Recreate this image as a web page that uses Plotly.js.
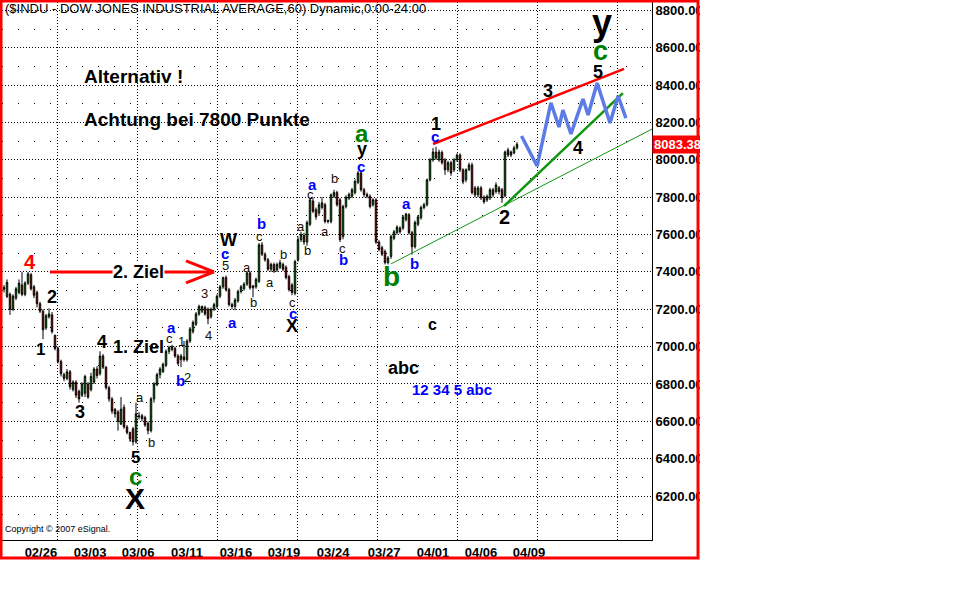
<!DOCTYPE html>
<html>
<head>
<meta charset="utf-8">
<script src="https://cdn.plot.ly/plotly-3.0.1.min.js"></script>
<style>
  html, body { margin: 0; padding: 0; background: #fff; }
  #chart { position: absolute; left: 0; top: 0; width: 700px; height: 560px; }
</style>
</head>
<body>
<div id="chart"></div>
<script>
// ---------------- DATA (60-min bars, $INDU) ----------------
const dateLabels = ['02/26','03/03','03/06','03/11','03/16','03/19','03/24','03/27','04/01','04/06','04/09'];
const dateTickIndex = [12.3, 28.7, 44.7, 61, 77.3, 93.3, 109.7, 126.7, 143, 159, 175];
const priceTicks = [6200, 6400, 6600, 6800, 7000, 7200, 7400, 7600, 7800, 8000, 8200, 8400, 8600, 8800];

const open = [
  7307,7269,7280,7200,7260,7290,7330,7280,7340,7385,
  7320,7290,7230,7190,7100,7160,7170,7060,6990,6920,
  6850,6830,6865,6770,6810,6760,6740,6750,6800,6770,
  6810,6880,6855,6950,6890,6780,6720,6665,6650,6585,
  6675,6570,6540,6560,6490,6630,6630,6620,6590,6550,
  6720,6795,6850,6865,6900,6975,6985,6990,6950,6930,
  6945,6930,7030,7080,7120,7175,7190,7210,7200,7160,
  7200,7215,7270,7320,7370,7305,7225,7215,7245,7295,
  7310,7335,7395,7315,7320,7350,7545,7495,7465,7415,
  7440,7410,7425,7440,7425,7375,7330,7285,7465,7573,
  7595,7560,7655,7780,7733,7715,7745,7760,7670,7670,
  7805,7825,7786,7590,7750,7795,7805,7825,7880,7930,
  7840,7815,7805,7760,7786,7560,7530,7510,7450,7483,
  7580,7610,7635,7635,7680,7706,7610,7535,7655,7690,
  7745,7760,7893,8000,8042,8000,8040,8000,7947,7985,
  7947,8000,8026,7947,7893,7947,7973,7850,7813,7850,
  7800,7786,7797,7840,7830,7850,7840,7808,8053,8026,
  8037,8064
];
const high = [
  7330,7360,7290,7280,7320,7360,7400,7350,7400,7395,
  7330,7300,7240,7200,7175,7205,7185,7065,7000,6930,
  6860,6880,6875,6820,6820,6770,6810,6850,6810,6860,
  6890,6895,6975,6960,6895,6790,6730,6670,6660,6730,
  6690,6580,6545,6570,6700,6650,6640,6630,6600,6730,
  6810,6860,6890,6915,6985,7005,7010,7000,6960,6960,
  7030,7040,7105,7140,7185,7225,7220,7220,7210,7210,
  7235,7280,7330,7375,7381,7315,7235,7260,7305,7330,
  7345,7400,7400,7330,7370,7555,7560,7505,7475,7450,
  7450,7450,7465,7450,7435,7385,7340,7465,7590,7615,
  7610,7675,7800,7795,7745,7775,7800,7770,7680,7820,
  7840,7835,7795,7760,7810,7825,7850,7895,7940,7945,
  7850,7825,7815,7795,7795,7570,7540,7520,7485,7600,
  7625,7650,7645,7705,7717,7715,7620,7675,7705,7755,
  7770,7900,8010,8064,8070,8055,8050,8010,7995,7995,
  8010,8035,8035,7955,7955,7985,7985,7860,7860,7860,
  7810,7815,7850,7850,7880,7860,7850,8050,8065,8050,
  8075,8095
];
const low = [
  7290,7260,7170,7190,7250,7280,7270,7270,7330,7300,
  7260,7210,7180,7040,7090,7150,7070,6980,6910,6840,
  6815,6820,6770,6760,6725,6700,6730,6730,6720,6760,
  6800,6830,6845,6880,6770,6705,6640,6620,6550,6580,
  6560,6530,6490,6470,6480,6610,6600,6570,6530,6540,
  6700,6790,6830,6860,6890,6960,6975,6940,6900,6890,
  6920,6920,7020,7070,7110,7165,7180,7165,7120,7150,
  7190,7205,7260,7310,7295,7215,7200,7195,7235,7285,
  7300,7325,7305,7264,7310,7340,7485,7455,7405,7400,
  7395,7400,7415,7405,7360,7295,7275,7275,7455,7560,
  7545,7540,7645,7715,7680,7700,7735,7660,7660,7660,
  7795,7750,7560,7575,7740,7785,7795,7815,7870,7830,
  7800,7795,7740,7750,7550,7510,7485,7440,7440,7470,
  7570,7600,7605,7625,7670,7600,7493,7525,7645,7680,
  7735,7750,7885,7990,8000,7990,7975,7920,7935,7915,
  7935,7990,7935,7870,7880,7940,7815,7800,7800,7785,
  7765,7775,7785,7800,7820,7815,7770,7800,8015,8015,
  8030,8055
];
const close = [
  7317,7344,7200,7270,7310,7340,7280,7340,7390,7310,
  7275,7230,7190,7090,7165,7175,7080,6990,6920,6855,
  6830,6865,6785,6810,6740,6720,6800,6840,6730,6840,
  6880,6845,6950,6890,6780,6720,6655,6640,6600,6665,
  6570,6540,6505,6490,6640,6625,6615,6580,6550,6720,
  6800,6850,6880,6905,6975,6995,7000,6950,6910,6950,
  6930,7030,7095,7130,7175,7215,7215,7175,7150,7200,
  7225,7270,7320,7370,7305,7225,7215,7250,7295,7320,
  7335,7395,7315,7325,7360,7545,7495,7465,7415,7440,
  7405,7440,7450,7415,7370,7305,7290,7455,7573,7600,
  7560,7665,7786,7725,7695,7760,7770,7670,7675,7813,
  7825,7760,7573,7750,7800,7815,7840,7885,7930,7840,
  7815,7805,7750,7786,7560,7520,7495,7450,7475,7590,
  7615,7640,7615,7695,7710,7610,7535,7665,7695,7745,
  7760,7893,8000,8042,8010,8042,7985,7947,7985,7930,
  8000,8026,7947,7883,7947,7973,7825,7813,7850,7797,
  7775,7805,7840,7813,7866,7830,7797,8042,8026,8042,
  8064,8083.38
];

// drawn-in trend lines and projected path (bar index, price)
const redLineX = [143, 206.7];
const redLineY = [8085, 8487];
const greenThickX = [166.7, 206.3];
const greenThickY = [7753, 8358];
const greenThinX = [129, 216];
const greenThinY = [7443, 8165];
const projX = [172.5, 177.7, 182.3, 185, 186.3, 189, 193, 194.7, 197.7, 202, 204.7, 207.3];
const projY = [8128, 7967, 8305, 8176, 8267, 8139, 8326, 8240, 8412, 8198, 8342, 8224];

// ---------------- CHART ----------------
const barIndex = open.map((_, i) => i);
const FONT = 'Arial, "Liberation Sans", sans-serif';

const traces = [
  {
    type: 'candlestick', x: barIndex, open: open, high: high, low: low, close: close,
    increasing: { line: { color: '#000000', width: 1 }, fillcolor: '#00dd00' },
    decreasing: { line: { color: '#000000', width: 1 }, fillcolor: '#ff0000' },
    whiskerwidth: 0, hoverinfo: 'skip'
  },
  { type: 'scatter', mode: 'lines', x: greenThinX, y: greenThinY, line: { color: '#129612', width: 1 }, hoverinfo: 'skip' },
  { type: 'scatter', mode: 'lines', x: greenThickX, y: greenThickY, line: { color: '#129612', width: 2.5 }, hoverinfo: 'skip' },
  { type: 'scatter', mode: 'lines', x: redLineX, y: redLineY, line: { color: '#ff0000', width: 2.5 }, hoverinfo: 'skip' },
  { type: 'scatter', mode: 'lines', x: projX, y: projY, line: { color: '#5b7be6', width: 3.5 }, hoverinfo: 'skip' }
];

const STY = {
  big:   { size: 18, color: '#000000', weight: 'bold' },
  small: { size: 13, color: '#1a0d00', weight: 'normal' },
  blue:  { size: 15, color: '#0000ff', weight: 'bold' },
  green: { size: 25, color: '#008000', weight: 'bold' },
  red:   { size: 20, color: '#ff0000', weight: 'bold' }
};
const annotations = [];
function lab(t, x, y, st, size, extra) {
  const f = Object.assign({ family: FONT }, STY[st]);
  if (size) f.size = size;
  annotations.push(Object.assign({ text: t, x: x, y: y, xref: 'x', yref: 'y', showarrow: false, font: f }, extra || {}));
}
// wave labels
lab('4', 8.67, 7453, 'red', 20);
lab('2', 16, 7266, 'big', 18);
lab('1', 12.33, 6982, 'big', 17);
lab('3', 25.33, 6650, 'big', 18);
lab('4', 32.67, 7025, 'big', 18);
lab('1. Ziel', 44.67, 6998, 'big', 18);
lab('2. Ziel', 44.67, 7400, 'big', 18, { bgcolor: '#ffffff', borderpad: 0 });
lab('5', 43.67, 6404, 'big', 17);
lab('c', 43.67, 6302, 'green', 24);
lab('X', 43.67, 6189, 'big', 30);
lab('a', 45.33, 6730, 'small');
lab('b', 49, 6484, 'small');
lab('a', 55.67, 7100, 'blue');
lab('c', 55.33, 7041, 'small');
lab('1', 59.33, 7025, 'small');
lab('b', 58.67, 6816, 'blue');
lab('2', 61.33, 6837, 'small');
lab('3', 66.67, 7282, 'small');
lab('4', 68, 7062, 'small');
lab('5', 73.67, 7432, 'small');
lab('c', 73.67, 7501, 'blue');
lab('W', 74.67, 7571, 'big', 18);
lab('a', 76.33, 7127, 'blue');
lab('a', 81, 7426, 'small');
lab('b', 83, 7234, 'small');
lab('c', 85.33, 7592, 'small');
lab('b', 85.67, 7662, 'blue');
lab('a', 88.67, 7341, 'small');
lab('b', 93, 7491, 'small');
lab('c', 96, 7234, 'small');
lab('c', 96.33, 7180, 'blue');
lab('X', 96, 7111, 'big', 18);
lab('a', 99, 7646, 'small');
lab('b', 101, 7517, 'small');
lab('c', 102.33, 7817, 'small');
lab('a', 102.67, 7866, 'blue');
lab('a', 107, 7614, 'small');
lab('b', 110, 7898, 'small');
lab('c', 112.67, 7528, 'small');
lab('b', 113, 7469, 'blue');
lab('c', 119, 7967, 'blue');
lab('y', 119.33, 8058, 'big', 18);
lab('a', 119.33, 8144, 'green', 24);
lab('b', 129, 7373, 'green', 28);
lab('a', 134.33, 7764, 'blue');
lab('b', 136.67, 7443, 'blue');
lab('c', 143.67, 8123, 'blue');
lab('1', 144, 8192, 'big', 18);
lab('2', 166.67, 7694, 'big', 20);
lab('3', 181.33, 8369, 'big', 18);
lab('4', 191.33, 8064, 'big', 18);
lab('5', 198, 8471, 'big', 18);
lab('c', 198.67, 8583, 'green', 27);
lab('y', 199.33, 8738, 'big', 36);
lab('c', 142.67, 7121, 'big', 16);
lab('abc', 133, 6886, 'big', 18);
lab('12 34 5 abc', 149.33, 6768, 'blue', 15);
lab('Alternativ !', 26, 8449, 'big', 19, { xanchor: 'left' });
lab('Achtung bei 7800 Punkte', 26, 8214, 'big', 19, { xanchor: 'left' });

// header / footer / last price
annotations.push({ text: '($INDU - DOW JONES INDUSTRIAL AVERAGE,60) Dynamic,0:00-24:00', xref: 'paper', yref: 'paper',
  x: 0, y: 0.987, xanchor: 'left', yanchor: 'middle', xshift: 1, showarrow: false,
  font: { family: FONT, size: 13, color: '#000000' } });
annotations.push({ text: 'Copyright \u00a9 2007 eSignal.', xref: 'paper', yref: 'paper',
  x: 0, y: 0.0204, xanchor: 'left', yanchor: 'middle', xshift: 1, showarrow: false,
  font: { family: FONT, size: 9, color: '#000000' } });
const lastClose = close[close.length - 1];
annotations.push({ text: lastClose.toFixed(2), xref: 'paper', yref: 'y', x: 1, y: lastClose,
  xanchor: 'left', yanchor: 'middle', xshift: 0, showarrow: false, bgcolor: '#ff0000', borderpad: 1,
  font: { family: FONT, size: 13, color: '#ffffff', weight: 'bold' } });

const shapes = [
  // red target arrow "2. Ziel"
  { type: 'line', xref: 'x', yref: 'y', x0: 15.33, y0: 7400, x1: 70, y1: 7400, line: { color: '#ff0000', width: 3 } },
  { type: 'line', xref: 'x', yref: 'y', x0: 60.67, y0: 7459, x1: 70, y1: 7400, line: { color: '#ff0000', width: 3 } },
  { type: 'line', xref: 'x', yref: 'y', x0: 60.67, y0: 7341, x1: 70, y1: 7400, line: { color: '#ff0000', width: 3 } },
  // red frame
  { type: 'rect', xref: 'paper', yref: 'paper', x0: -0.0015, y0: -0.0335, x1: 1.0708, y1: 1.0019,
    line: { color: '#ff0000', width: 3 }, fillcolor: 'rgba(0,0,0,0)', layer: 'above' }
];

const layout = {
  width: 700, height: 560,
  margin: { l: 2, r: 48, t: 2, b: 20 },
  paper_bgcolor: '#ffffff', plot_bgcolor: '#ffffff',
  showlegend: false, hovermode: false,
  xaxis: {
    range: [-0.667, 216], rangeslider: { visible: false },
    tickmode: 'array', tickvals: dateTickIndex, ticktext: dateLabels,
    showgrid: false, zeroline: false, showline: true, linecolor: '#000000', linewidth: 1, ticks: '',
    tickfont: { family: FONT, size: 13, color: '#000000', weight: 'bold' },
    minor: { tickmode: 'linear', tick0: 17.67, dtick: 26.67, showgrid: true, gridcolor: '#000000', griddash: '1px,2px', gridwidth: 1, ticks: '' }
  },
  yaxis: {
    side: 'right', range: [5964.5, 8845.5],
    tickmode: 'array', tickvals: priceTicks, tickformat: '.2f',
    showgrid: true, gridcolor: '#000000', griddash: '1px,2px', gridwidth: 1,
    zeroline: false, showline: true, linecolor: '#000000', linewidth: 1, ticks: '',
    tickfont: { family: FONT, size: 13, color: '#000000', weight: 'bold' },
    minor: { tickmode: 'linear', tick0: 6100, dtick: 200, showgrid: true, gridcolor: '#000000', griddash: '1px,15px', gridwidth: 1, ticks: '' }
  },
  annotations: annotations,
  shapes: shapes
};

Plotly.newPlot('chart', traces, layout, { staticPlot: true, displayModeBar: false });
</script>
</body>
</html>
